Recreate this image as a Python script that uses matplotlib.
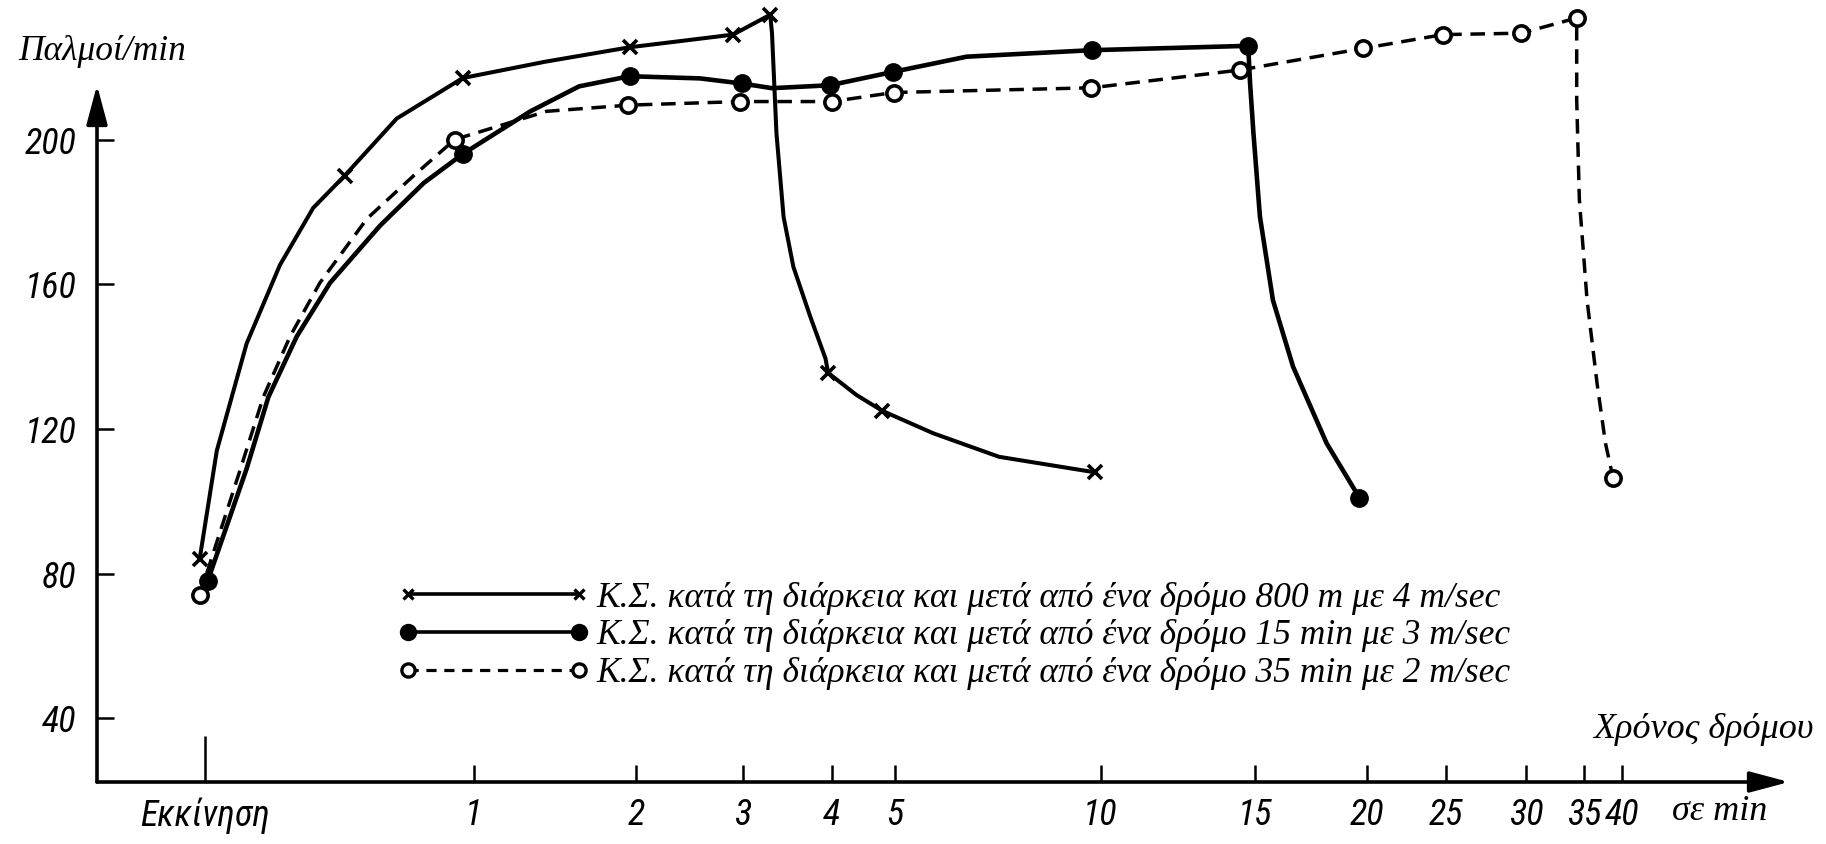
import numpy as np
import matplotlib.pyplot as plt
from matplotlib.lines import Line2D

# x axis: minutes after start (hand drawn, uneven spacing)
tick_min = [0, 1, 2, 3, 4, 5, 10, 15, 20, 25, 30, 35, 40]
tick_labels = ['Εκκίνηση', '1', '2', '3', '4', '5', '10', '15', '20', '25', '30', '35', '40']
y_ticks = [40, 80, 120, 160, 200]

# 800 m at 4 m/sec  (x markers)
run800_mark_t = [-0.02, 0.52, 0.96, 1.96, 2.91, 3.31, 3.96, 4.8, 9.87]
run800_mark_v = [84, 190, 217, 225.5, 229, 234.5, 135.5, 125, 108]
run800_t = [-0.02, 0.044, 0.155, 0.279, 0.403, 0.52, 0.714, 0.96, 1.44, 1.96, 2.44, 2.91,
            3.31, 3.33, 3.38, 3.46, 3.57, 3.76, 3.93, 3.96, 4.39, 4.8, 5.93, 7.53, 9.87]
run800_v = [84, 114, 143.6, 165.3, 181.1, 190, 205.8, 217, 221.5, 225.5, 227.3, 229,
            234.5, 229.4, 201.7, 178.6, 164.8, 151, 139.5, 135.5, 129.4, 125, 118.8, 112.3, 108]

# 15 min at 3 m/sec  (filled circles)
run15_mark_t = [0.01, 0.96, 1.96, 2.99, 3.98, 4.97, 9.79, 14.78, 19.66]
run15_mark_v = [78, 196, 217.5, 215.5, 215, 218.7, 224.7, 225.9, 101]
run15_t = [0.01, 0.155, 0.236, 0.342, 0.466, 0.652, 0.815, 0.96, 1.35, 1.65, 1.96, 2.6, 2.99,
           3.33, 3.98, 4.97, 6.74, 9.79, 14.78, 14.84, 14.95, 15.22, 15.8, 16.7, 18.2, 19.66]
run15_v = [78, 109, 128.8, 145.6, 160.4, 176.2, 188, 196, 207.8, 214.7, 217.5, 216.9, 215.5,
           214.2, 215, 218.7, 222.9, 224.7, 225.9, 215.6, 201.7, 178.7, 155.6, 137.2, 116, 101]

# 35 min at 2 m/sec  (open circles)
run35_mark_t = [-0.02, 0.93, 1.95, 2.98, 4.0, 4.98, 9.78, 14.5, 19.84, 24.8, 29.7, 34.37, 38.8]
run35_mark_v = [74, 200, 209.5, 210.5, 210.5, 213, 214.3, 219.2, 225.2, 229, 229.4, 233.6, 106.3]
run35_t = [-0.02, 0.124, 0.217, 0.317, 0.428, 0.603, 0.777, 0.93, 1.45, 1.95, 2.98, 4.0, 4.98,
           9.78, 14.5, 19.84, 24.8, 29.7, 34.37, 34.37, 34.6, 35.4, 36.7, 37.8, 38.8]
run35_v = [74, 107.1, 128.8, 145.6, 160.4, 178.1, 190, 200, 207.8, 209.5, 210.5, 210.5, 213,
           214.3, 219.2, 225.2, 229, 229.4, 233.6, 211, 183.4, 155.6, 132.6, 116, 106.3]

labels = ['Κ.Σ. κατά τη διάρκεια και μετά από ένα δρόμο 800 m με 4 m/sec',
          'Κ.Σ. κατά τη διάρκεια και μετά από ένα δρόμο 15 min με 3 m/sec',
          'Κ.Σ. κατά τη διάρκεια και μετά από ένα δρόμο 35 min με 2 m/sec']

# where each tick sits along the drawn axis (pixels of the 1826 px wide sheet)
tick_px = [205, 473.5, 636, 742.6, 831.7, 895, 1100.5, 1255, 1367, 1446, 1526, 1584, 1622.4]
axis_min = [-1] + tick_min + [80]
axis_px = [205 - 268.5] + tick_px + [1622.4 + 40 * 7.68]


def fwd(t):
    return np.interp(t, axis_min, axis_px)


def inv(p):
    return np.interp(p, axis_px, axis_min)


W, H = 1826, 844
X0, X1, Y0 = 97, 1789, 782      # axis origin / arrow tip in pixels
num_font = ['Roboto Condensed', 'Liberation Sans Narrow', 'Liberation Sans', 'DejaVu Sans']
serif_font = ['Liberation Serif', 'DejaVu Serif']

fig = plt.figure(figsize=(W / 100, H / 100), dpi=100)
ax = fig.add_axes([X0 / W, (H - Y0) / H, (X1 - X0) / W, Y0 / H])
ax.set_xscale('function', functions=(fwd, inv))
ax.set_xlim(inv(X0), inv(X1))
ax.set_ylim(22.4, 22.4 + Y0 / 3.6175)
ax.patch.set_alpha(0)
for s in ax.spines.values():
    s.set_visible(False)

# curves
ax.plot(run800_t, run800_v, color='black', lw=2.9, solid_capstyle='round')
ax.plot(run15_t, run15_v, color='black', lw=3.3, solid_capstyle='round')
ax.plot(run35_t, run35_v, color='black', lw=2.5, ls=(0, (4.2, 2.5)))

# measured points
ax.plot(run800_mark_t, run800_mark_v, ls='none', marker='x', ms=9.5, mew=2.6, color='black')
ax.plot(run15_mark_t, run15_mark_v, ls='none', marker='o', ms=12.5, color='black')
ax.plot(run35_mark_t, run35_mark_v, ls='none', marker='o', ms=11, mfc='white', mec='black',
        mew=2.6)

# axes with arrow heads
arrow = dict(arrowstyle='-|>,head_length=1.2,head_width=0.32', lw=2.6, color='black',
             mutation_scale=20, shrinkA=0, shrinkB=0)
ax.annotate('', xy=(1, 0), xytext=(0, 0), xycoords='axes fraction',
            textcoords='axes fraction', arrowprops=arrow, annotation_clip=False)
ax.annotate('', xy=(0, (Y0 - 85) / Y0), xytext=(0, 0), xycoords='axes fraction',
            textcoords='axes fraction', arrowprops=arrow, annotation_clip=False)

ax.set_xticks(tick_min)
ax.set_xticklabels(tick_labels)
ax.set_yticks(y_ticks)
ax.tick_params(axis='both', direction='in', length=12, width=1.8, color='black')
ax.tick_params(axis='x', pad=11)
ax.tick_params(axis='y', pad=15)
ax.xaxis.get_major_ticks()[0].tick1line.set_markersize(33)
for lab in ax.get_xticklabels() + ax.get_yticklabels():
    lab.set_family(num_font)
    lab.set_style('italic')
    lab.set_fontsize(26)

fig.text(18 / W, 1 - 52 / H, 'Παλμοί/min', family=serif_font, style='italic', fontsize=25.5,
         ha='left', va='center')
fig.text(1814 / W, 1 - 730 / H, 'Χρόνος δρόμου', family=serif_font, style='italic',
         fontsize=26, ha='right', va='center')
fig.text(1672 / W, 1 - 812 / H, 'σε min', family=serif_font, style='italic', fontsize=26,
         ha='left', va='center')

h1 = Line2D([], [], color='black', lw=2.6, marker='x', ms=7.5, mew=2.4)
h2 = Line2D([], [], color='black', lw=2.6, marker='o', ms=11.5)
h3 = Line2D([], [], color='black', lw=2.3, ls=(0, (3.2, 2.4)), marker='o', ms=9.5,
            mfc='white', mew=2.4)
fig.legend([h1, h2, h3], labels, loc='center left', bbox_to_anchor=(397.6 / W, 1 - 636 / H),
           frameon=False, numpoints=2, handlelength=5.4, handletextpad=0.2,
           labelspacing=0.14, borderpad=0, borderaxespad=0,
           prop=dict(family=serif_font, style='italic', size=25.6))

fig.savefig('out.png', dpi=100)
